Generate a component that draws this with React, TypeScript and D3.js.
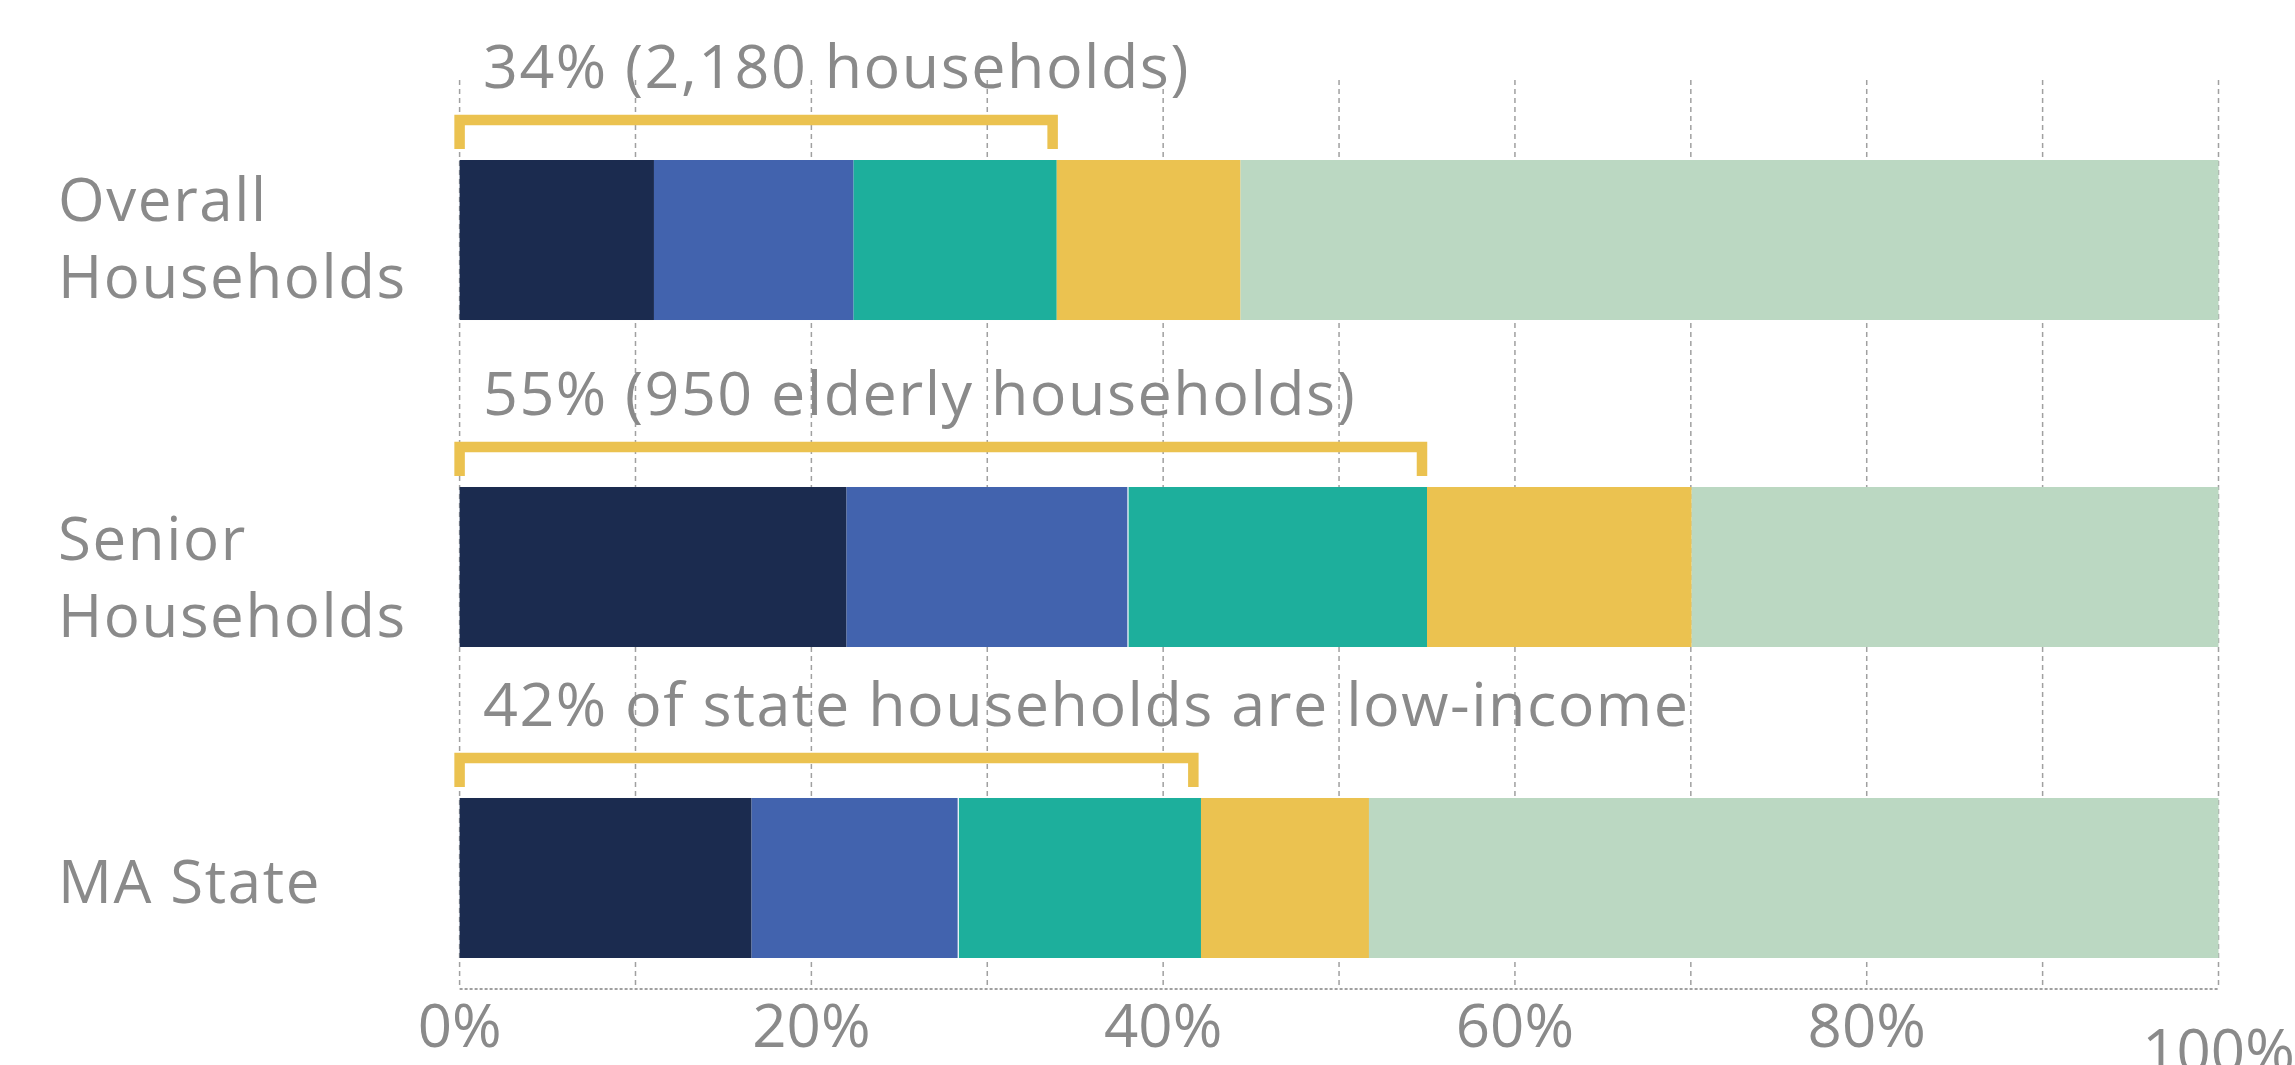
import * as d3 from 'd3'

// rows, top to bottom
const CATEGORIES = ['Overall Households', 'Senior Households', 'MA State']
const LABEL_LINES = [['Overall', 'Households'], ['Senior', 'Households'], ['MA State']]
const ANNOTATIONS = [
  '34% (2,180 households)',
  '55% (950 elderly households)',
  '42% of state households are low-income',
]
// share of households (%) in each income band, left → right
const SEG_1 = [11.05, 22.0, 16.6]
const SEG_2 = [11.35, 16.0, 11.75]
const SEG_3 = [11.55, 17.0, 13.8]
const SEG_4 = [10.45, 15.05, 9.55]
const SEG_5 = [55.6, 29.95, 48.3]
// low-income share marked by the bracket
const LOW_INCOME = [34, 55, 42]

const SEG_COLORS = ['#1B2B4F', '#4263AE', '#1DAF9C', '#EBC250', '#BBD8C2']
const TICKS = [0, 20, 40, 60, 80, 100]
const GRID = d3.range(0, 101, 10)

const W = 2295
const H = 1065
const GRAY = '#8a8a8a'
const FONT = '"Open Sans", sans-serif'
// the original isn't evenly spaced: small per-row nudges
const ROW_NUDGE = [0, 8, 0]
// label baseline offsets from bar top
const LABEL_DY = [61, 73, 105]

export default function App() {
  const x = d3.scaleLinear().domain([0, 100]).range([459.6, 2218.5])
  const band = d3.scaleBand<string>().domain(CATEGORIES).range([160, 958]).paddingInner(0.4984).paddingOuter(0)
  const bw = band.bandwidth()
  const y = (c: string) => (band(c) as number) + ROW_NUDGE[CATEGORIES.indexOf(c)]

  const rows = CATEGORIES.map((c, i) => ({
    cat: c,
    vals: [SEG_1[i], SEG_2[i], SEG_3[i], SEG_4[i], SEG_5[i]],
  }))
  const stacked = d3.stack<{ cat: string; vals: number[] }, number>()
    .keys([0, 1, 2, 3, 4])
    .value((d, k) => d.vals[k])(rows)

  const gridTop = 80
  const axisY = 989

  return (
    <svg width={W} height={H} style={{ position: 'absolute', left: 0, top: 0, background: '#fff' }}
      fontFamily={FONT}>
      {/* grid */}
      {GRID.map(g => (
        <line key={g} x1={x(g)} x2={x(g)} y1={gridTop} y2={axisY}
          stroke="#a0a0a0" strokeWidth={1.5} strokeDasharray="5,4" />
      ))}
      <line x1={x(0)} x2={x(100)} y1={axisY} y2={axisY} stroke="#a0a0a0" strokeWidth={2} strokeDasharray="3,2" />

      {/* bars */}
      {stacked.map((layer, k) => (
        <g key={k} fill={SEG_COLORS[k]}>
          {layer.map((d, i) => (
            <rect key={i} x={x(d[0])} y={y(CATEGORIES[i])} width={x(d[1]) - x(d[0])} height={bw} />
          ))}
        </g>
      ))}
      {/* thin white seam between 2nd and 3rd band on the lower rows */}
      {stacked[2].slice(1).map((d, i) => (
        <line key={i} x1={x(d[0])} x2={x(d[0])} y1={y(CATEGORIES[i + 1])} y2={y(CATEGORIES[i + 1]) + bw}
          stroke="#fff" strokeWidth={1.2} />
      ))}

      {/* brackets + annotations */}
      {CATEGORIES.map((c, i) => {
        const top = y(c)
        const ly = top - 40
        const x0 = x(0)
        const x1 = x(LOW_INCOME[i]) - 5
        return (
          <g key={c}>
            <path d={`M${x0},${top - 11}V${ly}H${x1}V${top - 11}`} fill="none"
              stroke="#EBC250" strokeWidth={10.5} />
            <text x={483} y={top - 72} fill={GRAY} fontSize={61} letterSpacing={1.5}>{ANNOTATIONS[i]}</text>
          </g>
        )
      })}

      {/* row labels */}
      {CATEGORIES.map((c, i) => (
        <text key={c} x={58} y={y(c) + LABEL_DY[i]} fill={GRAY} fontSize={60} letterSpacing={1.6}>
          {LABEL_LINES[i].map((l, j) => (
            <tspan key={j} x={58} dy={j === 0 ? 0 : 77}>{l}</tspan>
          ))}
        </text>
      ))}

      {/* x tick labels (the last one sits lower and runs off the edge, as in the original) */}
      {TICKS.map((t, i) => (
        <text key={t} x={x(t)} y={i === TICKS.length - 1 ? 1072 : 1047} textAnchor="middle"
          fill={GRAY} fontSize={60}>{t}%</text>
      ))}
    </svg>
  )
}
